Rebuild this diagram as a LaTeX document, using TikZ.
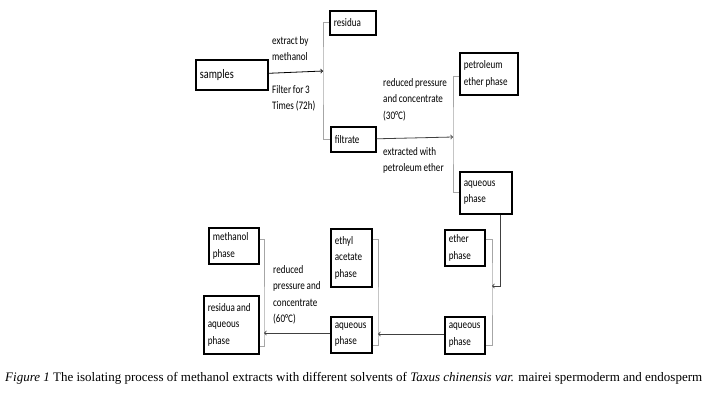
\documentclass[tikz,border=0pt]{standalone}
\usepackage{fontspec}
\setmainfont{Liberation Serif}
\newfontfamily\boxfont[FakeStretch=0.79, WordSpace=0.85]{Carlito}
\usetikzlibrary{arrows,positioning,calc}

\begin{document}
\begin{tikzpicture}[x=1pt, y=-1pt, >=to]
\tikzstyle{every node} = [inner sep=0pt, font=\boxfont\fontsize{11.5}{16.5}\selectfont]
\tikzstyle{box} = [draw, line width=1.7pt, anchor=north west, align=flush left, inner xsep=4pt]
\tikzstyle{lbl} = [anchor=north west, align=left]
\tikzstyle{brk} = [draw, gray!70, line width=1pt]
\tikzstyle{flow} = [draw, black!75, line width=0.8pt, ->]
\useasboundingbox (0,0) rectangle (715,413);
% boxes
\node[box, text width=64pt, minimum height=30pt, font=\boxfont\fontsize{13}{16}\selectfont] (smp) at (195,59) {samples};
\node[box, text width=38pt, minimum height=24pt] (res) at (329,10) {residua};
\node[box, text width=37pt, minimum height=25pt] (fil) at (330,126) {filtrate};
\node[box, text width=50pt, minimum height=42pt] (pet) at (459,52) {petroleum\\ether phase};
\node[box, text width=44pt, minimum height=42pt] (aq1) at (459,171) {aqueous\\phase};
\node[box, text width=32pt, minimum height=36pt] (eth) at (444,229) {ether\\phase};
\node[box, text width=32pt, minimum height=37pt] (aq2) at (444,316) {aqueous\\phase};
\node[box, text width=33pt, minimum height=58pt] (ea) at (330,228) {ethyl\\acetate\\phase};
\node[box, text width=33pt, minimum height=36pt] (aq3) at (330,316) {aqueous\\phase};
\node[box, text width=42pt, minimum height=36pt] (mp) at (208,227) {methanol\\phase};
\node[box, text width=47pt, minimum height=58pt] (ra) at (203,295) {residua and\\aqueous\\phase};
% labels
\node[lbl] (l1) at (272,36) {extract by\\methanol};
\node[lbl] (l2) at (272,85) {Filter for 3\\Times (72h)};
\node[lbl] (l3) at (383,78) {reduced pressure\\and concentrate\\(30°C)};
\node[lbl] (l4) at (383,147) {extracted with\\petroleum ether};
\node[lbl] (l5) at (273,265) {reduced\\pressure and\\concentrate\\(60°C)};
% brackets
\coordinate (b1) at (323,71);
\coordinate (b2) at (453,137);
\coordinate (b3) at (492,286);
\coordinate (b4) at (378,334);
\coordinate (b5) at (264,333);
\coordinate (dn) at (500,286);
\draw[brk] (res.west) -| (b1) |- (fil.west);
\draw[brk] ($(pet.west)+(0,3)$) -| (b2) |- (aq1.west);
\draw[brk] ($(eth.north east)+(0,10)$) -| (b3) |- ($(aq2.south east)+(0,-9)$);
\draw[brk] ($(ea.north east)+(0,11)$) -| (b4) |- ($(aq3.south east)+(0,-8)$);
\draw[brk] ($(mp.north east)+(0,12)$) -| (b5) |- ($(ra.south east)+(0,-8)$);
% arrows
\draw[flow, black] (smp) -- (b1);
\draw[flow] (fil) -- (b2);
\draw[flow] (aq1.south -| dn) -- (dn) -- (b3);
\draw[flow] (aq2.west |- b4) -- (b4);
\draw[flow] (aq3.west |- b5) -- (b5);
% caption
\node[anchor=west, font=\fontsize{13}{15}\selectfont] (cap) at (5,378) {\textit{Figure 1} The isolating process of methanol extracts with different solvents of \textit{Taxus chinensis var.} mairei spermoderm and endosperm};
\end{tikzpicture}
\end{document}
